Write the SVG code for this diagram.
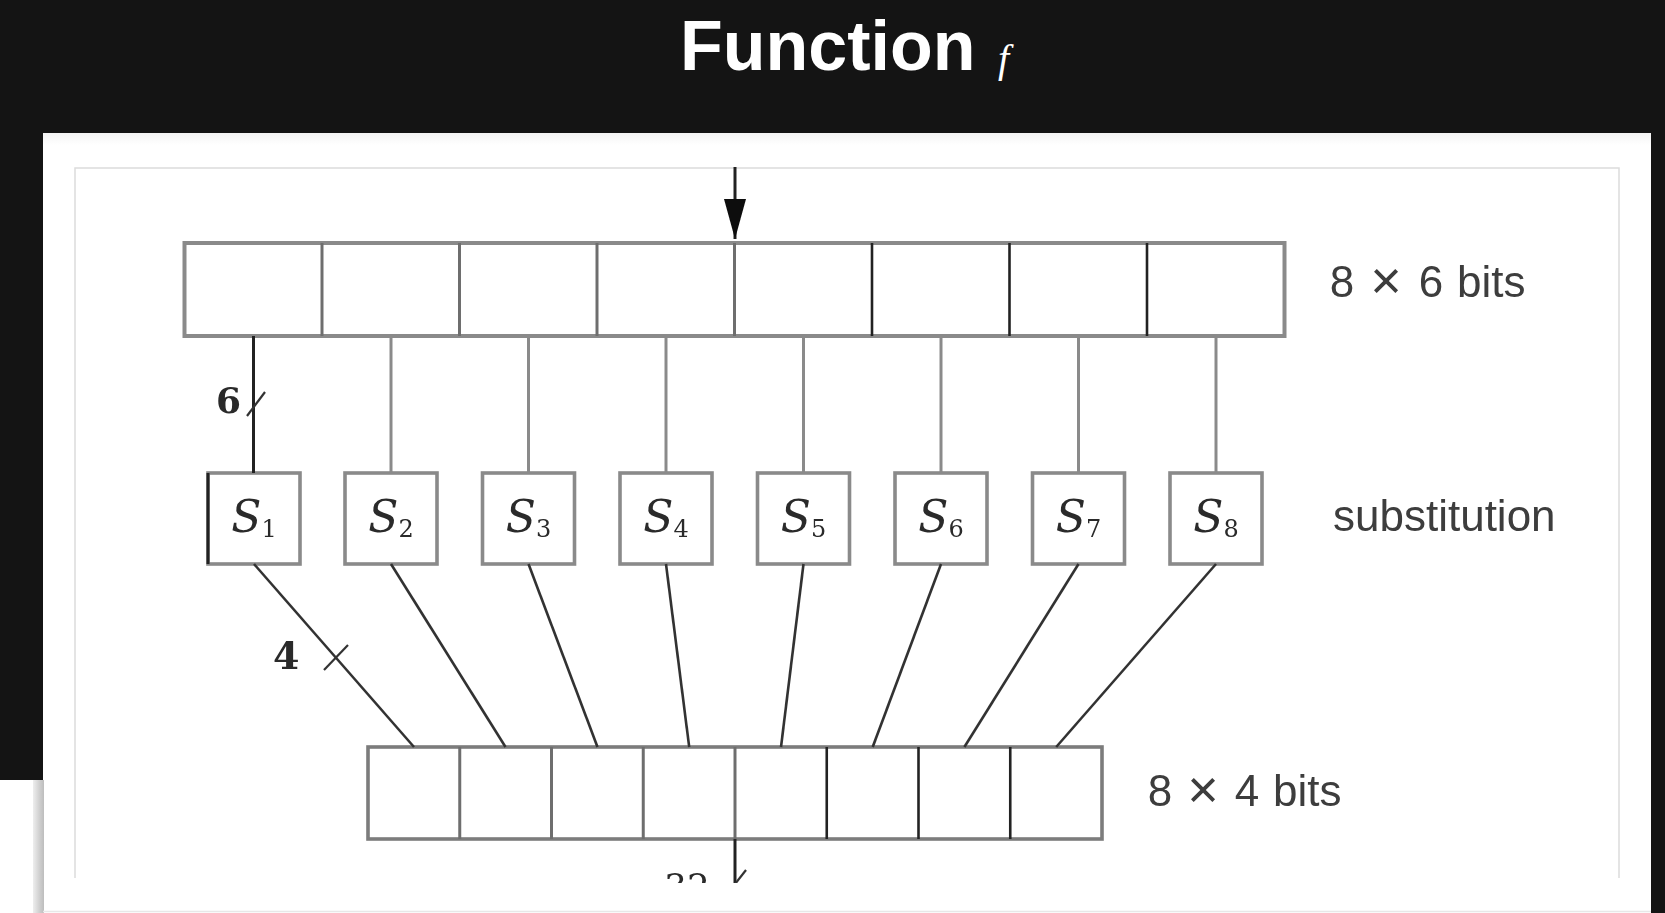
<svg xmlns="http://www.w3.org/2000/svg" width="1665" height="913" viewBox="0 0 1665 913">
  <style>
    .title { font-family: "Liberation Sans", Arial, sans-serif; font-weight: bold; font-size: 70px; fill: #ffffff; }
    .title-f { font-family: "Liberation Serif", "Times New Roman", serif; font-style: italic; font-size: 40px; fill: #ffffff; }
    .reg { fill: #ffffff; stroke: #8a8a8a; stroke-width: 4; }
    .div-g { stroke: #6e6e6e; stroke-width: 3; }
    .div-k { stroke: #222222; stroke-width: 2.6; }
    .sbox { fill: #ffffff; stroke: #8a8a8a; stroke-width: 3.6; }
    .wire { stroke: #8a8a8a; stroke-width: 3; fill: none; }
    .wire-k { stroke: #222222; stroke-width: 3; fill: none; }
    .diag { stroke: #333333; stroke-width: 2.6; fill: none; }
    .tick { stroke: #333333; stroke-width: 2.2; fill: none; }
    .lbl { font-family: "Liberation Sans", Arial, sans-serif; font-size: 44px; fill: #3c3c3c; }
    .times { font-size: 54px; }
    .s { font-family: "DejaVu Serif", "Liberation Serif", serif; font-style: italic; font-size: 44px; fill: #2a2a2a; }
    .sub { font-family: "DejaVu Serif", "Liberation Serif", serif; font-size: 24px; fill: #2a2a2a; }
    .num { font-family: "DejaVu Serif", "Liberation Serif", serif; font-size: 36px; font-weight: bold; fill: #2a2a2a; }
    .frame { stroke: #dcdcdc; stroke-width: 1.5; fill: none; }
  </style>
  <defs>
    <marker id="head" markerWidth="40" markerHeight="22" refX="40" refY="11" orient="auto" markerUnits="userSpaceOnUse" viewBox="0 0 40 22">
      <path d="M0,0 L40,11 L0,22 Z" fill="#111111"/>
    </marker>
    <linearGradient id="shade" x1="0" y1="0" x2="1" y2="0">
      <stop offset="0" stop-color="#eeeeee"/>
      <stop offset="0.6" stop-color="#cfcfcf"/>
      <stop offset="1" stop-color="#bdbdbd"/>
    </linearGradient>
    <linearGradient id="paneltop" x1="0" y1="0" x2="0" y2="1">
      <stop offset="0" stop-color="#f4f4f4"/>
      <stop offset="1" stop-color="#ffffff"/>
    </linearGradient>
    <filter id="soft" x="-5%" y="-5%" width="110%" height="110%">
      <feGaussianBlur stdDeviation="0.7"/>
    </filter>
    <clipPath id="cut">
      <rect x="0" y="0" width="1665" height="883"/>
    </clipPath>
  </defs>

  <!-- backdrop and sheet -->
  <g id="backdrop">
    <rect x="0" y="0" width="1665" height="913" fill="#141414"/>
    <rect x="43" y="133" width="1608" height="780" fill="#ffffff"/>
    <rect x="43" y="133" width="1608" height="12" fill="url(#paneltop)"/>
    <rect x="0" y="780" width="43" height="133" fill="#ffffff"/>
    <rect x="33" y="780" width="11" height="133" fill="url(#shade)"/>
    <line x1="43" y1="911.5" x2="1651" y2="911.5" stroke="#e8e8e8" stroke-width="1.5"/>
    <path class="frame" d="M75,878 V168 H1619 V878"/>
  </g>

  <!-- heading -->
  <g id="title">
    <text class="title" x="680" y="70">Function</text>
    <text class="title-f" x="998" y="72">f</text>
  </g>

  <g id="diagram" filter="url(#soft)" clip-path="url(#cut)">
    <!-- 48-bit input register -->
    <g id="input-register">
      <rect class="reg" x="184.5" y="243" width="1100" height="93"/>
      <line class="div-g" x1="322" y1="243" x2="322" y2="336"/>
      <line class="div-g" x1="459.5" y1="243" x2="459.5" y2="336"/>
      <line class="div-g" x1="597" y1="243" x2="597" y2="336"/>
      <line class="div-g" x1="734.5" y1="243" x2="734.5" y2="336"/>
      <line class="div-k" x1="872" y1="243" x2="872" y2="336"/>
      <line class="div-k" x1="1009.5" y1="243" x2="1009.5" y2="336"/>
      <line class="div-k" x1="1147" y1="243" x2="1147" y2="336"/>
      <text class="lbl" y="297"><tspan x="1342" text-anchor="middle">8</tspan><tspan class="times" x="1386" y="299" text-anchor="middle">×</tspan><tspan x="1431" y="297" text-anchor="middle">6</tspan><tspan x="1457">bits</tspan></text>
    </g>

    <!-- S-boxes -->
    <g id="s1">
      <rect class="sbox" x="208" y="473" width="92" height="91"/>
      <line class="wire-k" x1="208" y1="473" x2="208" y2="564"/>
      <text x="254" y="532" text-anchor="middle"><tspan class="s">S</tspan><tspan class="sub" dy="5">1</tspan></text>
    </g>
    <g id="s2">
      <rect class="sbox" x="345" y="473" width="92" height="91"/>
      <text x="391" y="532" text-anchor="middle"><tspan class="s">S</tspan><tspan class="sub" dy="5">2</tspan></text>
    </g>
    <g id="s3">
      <rect class="sbox" x="482.5" y="473" width="92" height="91"/>
      <text x="528.5" y="532" text-anchor="middle"><tspan class="s">S</tspan><tspan class="sub" dy="5">3</tspan></text>
    </g>
    <g id="s4">
      <rect class="sbox" x="620" y="473" width="92" height="91"/>
      <text x="666" y="532" text-anchor="middle"><tspan class="s">S</tspan><tspan class="sub" dy="5">4</tspan></text>
    </g>
    <g id="s5">
      <rect class="sbox" x="757.5" y="473" width="92" height="91"/>
      <text x="803.5" y="532" text-anchor="middle"><tspan class="s">S</tspan><tspan class="sub" dy="5">5</tspan></text>
    </g>
    <g id="s6">
      <rect class="sbox" x="895" y="473" width="92" height="91"/>
      <text x="941" y="532" text-anchor="middle"><tspan class="s">S</tspan><tspan class="sub" dy="5">6</tspan></text>
    </g>
    <g id="s7">
      <rect class="sbox" x="1032.5" y="473" width="92" height="91"/>
      <text x="1078.5" y="532" text-anchor="middle"><tspan class="s">S</tspan><tspan class="sub" dy="5">7</tspan></text>
    </g>
    <g id="s8">
      <rect class="sbox" x="1170" y="473" width="92" height="91"/>
      <text x="1216" y="532" text-anchor="middle"><tspan class="s">S</tspan><tspan class="sub" dy="5">8</tspan></text>
    </g>
    <g id="substitution-label">
      <text class="lbl" x="1333" y="531">substitution</text>
    </g>

    <!-- 32-bit output register -->
    <g id="output-register">
      <rect class="reg" x="368" y="747" width="734" height="92" style="stroke:#7c7c7c;stroke-width:3.6"/>
      <line class="div-g" x1="459.75" y1="747" x2="459.75" y2="839"/>
      <line class="div-g" x1="551.5" y1="747" x2="551.5" y2="839"/>
      <line class="div-g" x1="643.25" y1="747" x2="643.25" y2="839"/>
      <line class="div-g" x1="735" y1="747" x2="735" y2="839"/>
      <line class="div-k" x1="826.75" y1="747" x2="826.75" y2="839"/>
      <line class="div-k" x1="918.5" y1="747" x2="918.5" y2="839"/>
      <line class="div-k" x1="1010.25" y1="747" x2="1010.25" y2="839"/>
      <text class="lbl" y="806"><tspan x="1160" text-anchor="middle">8</tspan><tspan class="times" x="1203" y="808" text-anchor="middle">×</tspan><tspan x="1247" y="806" text-anchor="middle">4</tspan><tspan x="1273">bits</tspan></text>
    </g>

    <!-- wiring -->
    <g id="connectors">
      <line class="wire-k" x1="735" y1="167" x2="735" y2="239" marker-end="url(#head)"/>

      <line class="wire-k" x1="253.5" y1="336" x2="253.5" y2="473"/>
      <line class="wire" x1="391" y1="336" x2="391" y2="473"/>
      <line class="wire" x1="528.5" y1="336" x2="528.5" y2="473"/>
      <line class="wire" x1="666" y1="336" x2="666" y2="473"/>
      <line class="wire" x1="803.5" y1="336" x2="803.5" y2="473"/>
      <line class="wire" x1="941" y1="336" x2="941" y2="473"/>
      <line class="wire" x1="1078.5" y1="336" x2="1078.5" y2="473"/>
      <line class="wire" x1="1216" y1="336" x2="1216" y2="473"/>
      <line class="tick" x1="247" y1="416" x2="265" y2="392"/>
      <text class="num" x="216" y="413">6</text>

      <line class="diag" x1="254" y1="564" x2="414" y2="747"/>
      <line class="diag" x1="391" y1="564" x2="505.5" y2="747"/>
      <line class="diag" x1="528.5" y1="564" x2="597.5" y2="747"/>
      <line class="diag" x1="666" y1="564" x2="689.2" y2="747"/>
      <line class="diag" x1="803.5" y1="564" x2="781" y2="747"/>
      <line class="diag" x1="941" y1="564" x2="872.7" y2="747"/>
      <line class="diag" x1="1078.5" y1="564" x2="964.4" y2="747"/>
      <line class="diag" x1="1216" y1="564" x2="1056.2" y2="747"/>
      <line class="tick" x1="324" y1="670" x2="348" y2="645"/>
      <text class="num" x="273" y="669" style="font-size:38px">4</text>

      <line class="wire-k" x1="735" y1="839" x2="735" y2="905"/>
      <line class="tick" x1="728" y1="893" x2="746" y2="870"/>
      <text class="num" x="664" y="899" style="font-weight:normal">32</text>
    </g>
  </g>
</svg>
